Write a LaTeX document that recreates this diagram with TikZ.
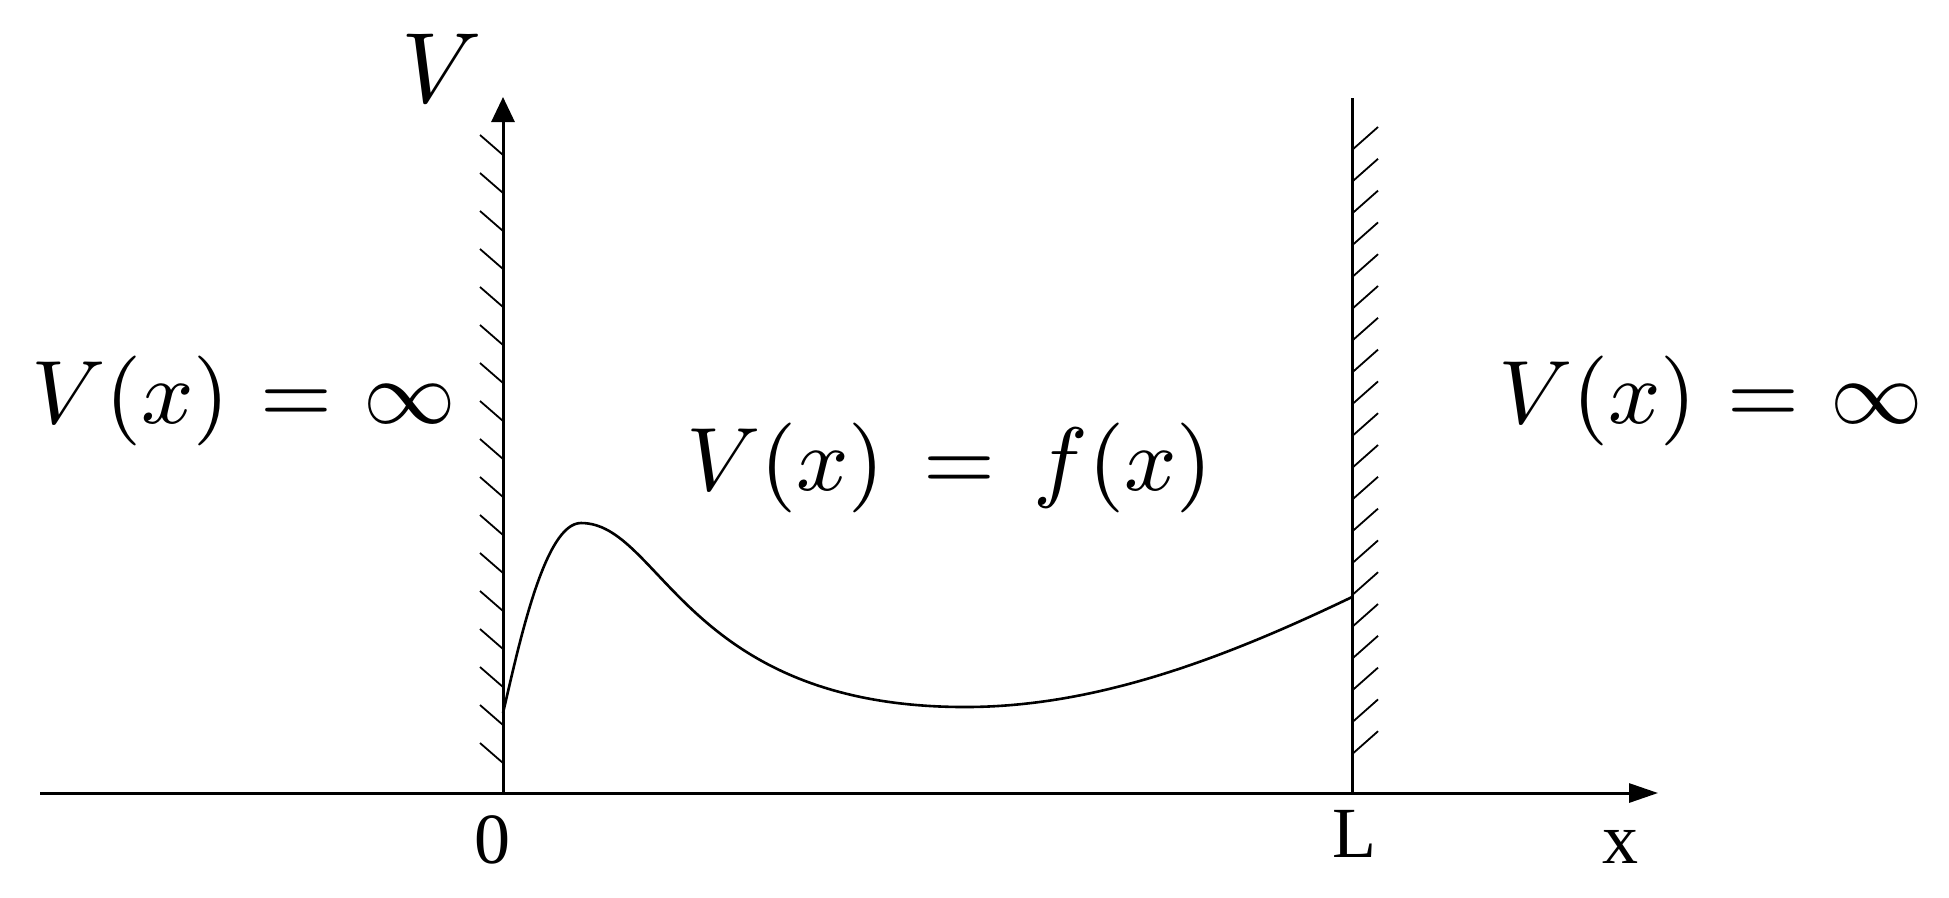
\documentclass[tikz,border=0pt]{standalone}
\usepackage{fontspec}
\newfontfamily\tnr{Liberation Serif}
\usetikzlibrary{arrows.meta}
\tikzset{
  axisline/.style={line width=0.3pt},
  hatchline/.style={line width=0.18pt},
  curveline/.style={line width=0.26pt},
  mathlabel/.style={anchor=base west, inner sep=0pt, font=\fontsize{9.4}{11}\selectfont},
  ticklabel/.style={anchor=base, inner sep=0pt, font=\tnr\fontsize{7.2}{8}\selectfont},
}
\newcommand{\eqsp}[1]{\mkern#1mu=\mkern#1mu}
\begin{document}
\begin{tikzpicture}[x=0.1pt,y=-0.1pt]
\useasboundingbox (0,0) rectangle (1949,897);
% axes
\coordinate (xstart) at (40,793);
\coordinate (xend) at (1658,793);
\coordinate (O) at (503,793);
\coordinate (Vtop) at (503,97);
\coordinate (Lbot) at (1352,793);
\coordinate (Ltop) at (1352,98);
\draw[axisline,-{Triangle[length=2.9pt,width=1.9pt]}] (xstart) -- (xend);
\draw[axisline,-{Triangle[length=2.5pt,width=2.3pt]}] (O) -- (Vtop);
\draw[axisline] (Lbot) -- (Ltop);
% hatching left wall
\foreach \i in {0,...,16}{
  \draw[hatchline] (503,155+38*\i) -- ++(-23,-20);
}
% hatching right wall
\foreach \i in {0,...,19}{
  \draw[hatchline] (1352,150+31.8*\i) -- ++(26,-23);
}
% potential curve
\coordinate (cstart) at (503,713);
\coordinate (cpeak) at (581,523);
\coordinate (cmin) at (965,707);
\coordinate (cend) at (1352,597);
\draw[curveline] (cstart) .. controls (520,640) and (545,523) .. (cpeak)
  .. controls (661,523) and (685,707) .. (cmin)
  .. controls (1095,707) and (1222,659.4) .. (cend);
% labels
\node[mathlabel] (Vlab) at (399,102) {\fontsize{9.8}{11}\selectfont$V$};
\node[mathlabel] (leftinf) at (29,423) {$V(x)\eqsp{1}\infty$};
\node[mathlabel] (rightinf) at (1496,423) {$V(x)\eqsp{1}\infty$};
\node[mathlabel] (fx) at (684,490) {$V(x)\eqsp{2.5}f(x)$};
\node[ticklabel] (zero) at (492,863) {0};
\node[ticklabel] (Llab) at (1354,857) {L};
\node[ticklabel] (xlab) at (1620,863) {x};
\end{tikzpicture}
\end{document}
